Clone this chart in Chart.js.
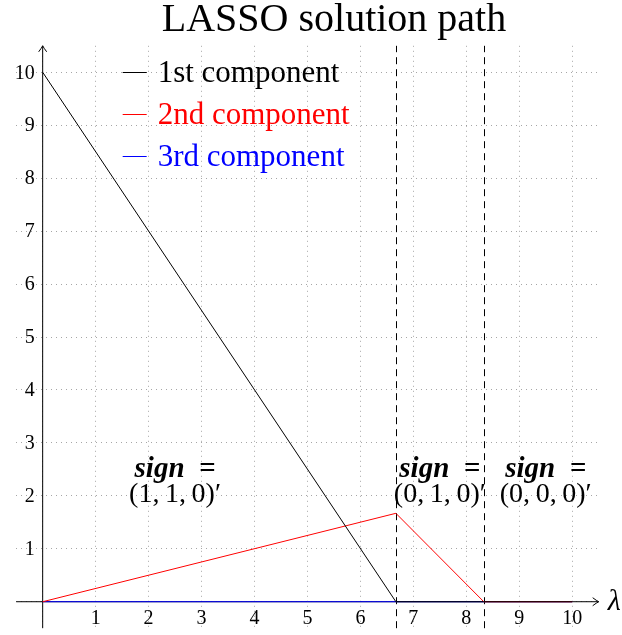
<!DOCTYPE html>
<html>
<head>
<meta charset="utf-8">
<script src="https://cdn.jsdelivr.net/npm/chart.js@4/dist/chart.umd.min.js"></script>
<style>
  html, body { margin: 0; padding: 0; background: #ffffff; }
  #wrap { width: 622px; height: 635px; }
</style>
</head>
<body>
<div id="wrap"><canvas id="c" width="622" height="635"></canvas></div>
<script>
// ---- data ----
const lambdaValues = [0, 6.67, 8.33, 10];
const firstComponent = [10, 0, 0, 0];
const secondComponent = [0, 1.67, 0, 0];
const thirdComponent = [0, 0, 0, 0];
const seriesLabels = ['1st component', '2nd component', '3rd component'];
const seriesColors = ['#000000', '#ff0000', '#0000ff'];
const xTickValues = [1, 2, 3, 4, 5, 6, 7, 8, 9, 10];
const xTickLabels = ['1', '2', '3', '4', '5', '6', '7', '8', '9', '10'];
const yTickValues = [1, 2, 3, 4, 5, 6, 7, 8, 9, 10];
const yTickLabels = ['1', '2', '3', '4', '5', '6', '7', '8', '9', '10'];
const gridValues = [0, 1, 2, 3, 4, 5, 6, 7, 8, 9, 10];
const breakpoints = [6.67, 8.33];
const signHeader = 'sign\u2002=';
const signVectors = ['(1,\u20091,\u20090)\u2032', '(0,\u20091,\u20090)\u2032', '(0,\u20090,\u20090)\u2032'];
const signCenters = [2.5, 7.5, 9.5];
const titleText = 'LASSO solution path';
const xAxisLabel = '\u03BB';

const SERIF = '"Liberation Serif", "DejaVu Serif", serif';

function buildPoints(ys) {
  return lambdaValues.map((x, i) => ({ x: x, y: ys[i] }));
}

const seriesValues = [firstComponent, secondComponent, thirdComponent];
const datasets = seriesValues.map((vals, i) => ({
  label: seriesLabels[i],
  data: buildPoints(vals),
  borderColor: seriesColors[i],
  backgroundColor: seriesColors[i],
  borderWidth: 1,
  pointRadius: 0,
  tension: 0,
  fill: false
}));

function arrowHead(ctx, tx, ty, dir) {
  ctx.beginPath();
  if (dir === 'right') {
    ctx.moveTo(tx - 6, ty - 4);
    ctx.quadraticCurveTo(tx - 2, ty - 1, tx, ty);
    ctx.quadraticCurveTo(tx - 2, ty + 1, tx - 6, ty + 4);
  } else {
    ctx.moveTo(tx - 4, ty + 6);
    ctx.quadraticCurveTo(tx - 1, ty + 2, tx, ty);
    ctx.quadraticCurveTo(tx + 1, ty + 2, tx + 4, ty + 6);
  }
  ctx.stroke();
}

const decorPlugin = {
  id: 'decor',
  beforeDatasetsDraw(chart) {
    const ctx = chart.ctx;
    const xs = chart.scales.x, ys = chart.scales.y;
    const x0 = xs.getPixelForValue(0);
    const y0 = ys.getPixelForValue(0);
    const area = chart.chartArea;
    ctx.save();
    ctx.strokeStyle = '#000';
    ctx.lineWidth = 1;
    ctx.beginPath();
    ctx.moveTo(area.left, y0);
    ctx.lineTo(area.right, y0);
    ctx.stroke();
    arrowHead(ctx, area.right, y0, 'right');
    ctx.beginPath();
    ctx.moveTo(x0, area.bottom);
    ctx.lineTo(x0, area.top);
    ctx.stroke();
    arrowHead(ctx, x0, area.top, 'up');
    ctx.setLineDash([7, 5]);
    breakpoints.forEach(b => {
      const px = Math.round(xs.getPixelForValue(b)) + 0.5;
      ctx.beginPath();
      ctx.moveTo(px, area.bottom);
      ctx.lineTo(px, area.top);
      ctx.stroke();
    });
    ctx.restore();
  },
  afterDraw(chart) {
    const ctx = chart.ctx;
    const xs = chart.scales.x, ys = chart.scales.y;
    const x0 = xs.getPixelForValue(0);
    const y0 = ys.getPixelForValue(0);
    const area = chart.chartArea;
    ctx.save();
    ctx.fillStyle = '#000';
    ctx.font = '40px ' + SERIF;
    ctx.textAlign = 'center';
    ctx.textBaseline = 'alphabetic';
    ctx.fillText(titleText, 334, 31);
    ctx.font = '20px ' + SERIF;
    ctx.textBaseline = 'middle';
    ctx.textAlign = 'center';
    xTickValues.forEach((v, i) => {
      ctx.fillText(xTickLabels[i], xs.getPixelForValue(v), y0 + 17);
    });
    ctx.textAlign = 'right';
    yTickValues.forEach((v, i) => {
      ctx.fillText(yTickLabels[i], x0 - 8, ys.getPixelForValue(v) + 1);
    });
    ctx.font = 'italic 30px ' + SERIF;
    ctx.textAlign = 'left';
    ctx.fillText(xAxisLabel, area.right + 9, y0);
    ctx.font = '31px ' + SERIF;
    ctx.textBaseline = 'middle';
    const legX = x0 + 80, legY = ys.getPixelForValue(10);
    chart.data.datasets.forEach((ds, i) => {
      const yy = Math.round(legY + i * 42) + 0.5;
      ctx.strokeStyle = ds.borderColor;
      ctx.lineWidth = 1;
      ctx.beginPath();
      ctx.moveTo(legX, yy);
      ctx.lineTo(legX + 24, yy);
      ctx.stroke();
      ctx.fillStyle = ds.borderColor;
      ctx.fillText(ds.label, legX + 35, yy + 1);
    });
    ctx.fillStyle = '#000';
    ctx.textAlign = 'center';
    signCenters.forEach((cx, i) => {
      const px = xs.getPixelForValue(cx);
      ctx.font = 'bold italic 29px ' + SERIF;
      ctx.fillText(signHeader, px, ys.getPixelForValue(2.5));
      ctx.font = '28px ' + SERIF;
      ctx.fillText(signVectors[i], px, ys.getPixelForValue(2.02));
    });
    ctx.restore();
  }
};

const gridStyle = {
  display: true,
  drawTicks: false,
  color: 'rgba(0,0,0,0.35)',
  lineWidth: 1
};

new Chart(document.getElementById('c'), {
  type: 'line',
  data: { datasets: datasets },
  options: {
    responsive: false,
    animation: false,
    devicePixelRatio: 1,
    layout: { padding: { left: 16.2, right: 23.3, top: 45.8, bottom: 6.8 } },
    plugins: {
      legend: { display: false },
      tooltip: { enabled: false },
      title: { display: false }
    },
    scales: {
      x: {
        type: 'linear',
        min: -0.5,
        max: 10.5,
        afterBuildTicks: s => { s.ticks = gridValues.map(v => ({ value: v })); },
        ticks: { display: false },
        grid: gridStyle,
        border: { display: false, dash: [1, 4] }
      },
      y: {
        type: 'linear',
        min: -0.5,
        max: 10.5,
        afterBuildTicks: s => { s.ticks = gridValues.map(v => ({ value: v })); },
        ticks: { display: false },
        grid: gridStyle,
        border: { display: false, dash: [1, 4] }
      }
    }
  },
  plugins: [decorPlugin]
});
</script>
</body>
</html>
